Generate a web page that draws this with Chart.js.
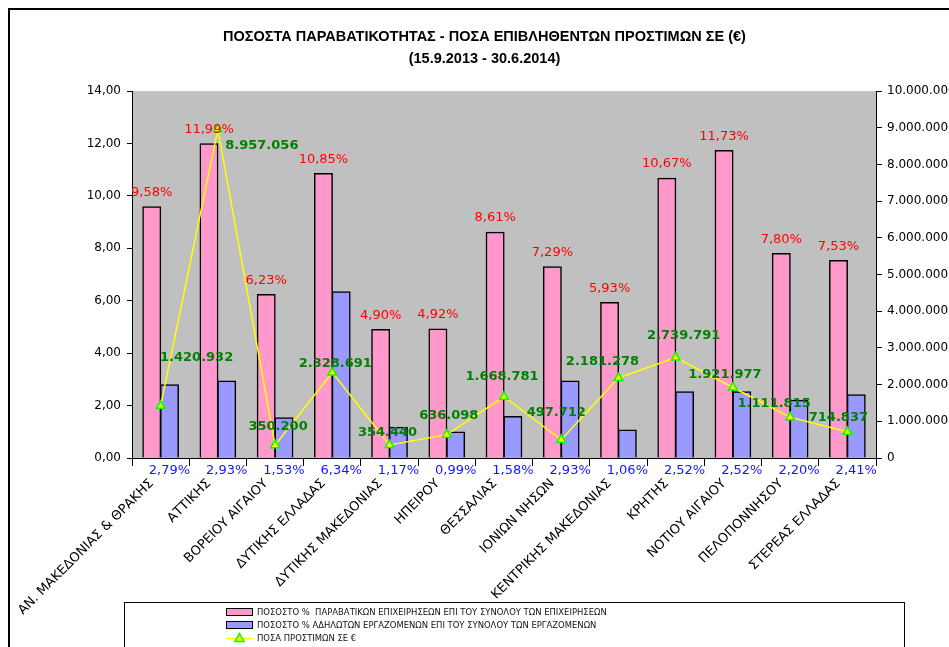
<!DOCTYPE html>
<html>
<head>
<meta charset="utf-8">
<script src="https://cdn.jsdelivr.net/npm/chart.js@4.4.1/dist/chart.umd.min.js"></script>
<style>
  html, body { margin: 0; padding: 0; background: #fff; }
  #wrap { width: 949px; height: 647px; }
</style>
</head>
<body>
<div id="wrap"><canvas id="chart" width="949" height="647"></canvas></div>
<script>
// --- data ---
const regions = [
    'ΑΝ. ΜΑΚΕΔΟΝΙΑΣ & ΘΡΑΚΗΣ', 'ΑΤΤΙΚΗΣ', 'ΒΟΡΕΙΟΥ ΑΙΓΑΙΟΥ', 'ΔΥΤΙΚΗΣ ΕΛΛΑΔΑΣ',
    'ΔΥΤΙΚΗΣ ΜΑΚΕΔΟΝΙΑΣ', 'ΗΠΕΙΡΟΥ', 'ΘΕΣΣΑΛΙΑΣ', 'ΙΟΝΙΩΝ ΝΗΣΩΝ',
    'ΚΕΝΤΡΙΚΗΣ ΜΑΚΕΔΟΝΙΑΣ', 'ΚΡΗΤΗΣ', 'ΝΟΤΙΟΥ ΑΙΓΑΙΟΥ', 'ΠΕΛΟΠΟΝΝΗΣΟΥ', 'ΣΤΕΡΕΑΣ ΕΛΛΑΔΑΣ'
];
const pctViolating = [9.58, 11.99, 6.23, 10.85, 4.90, 4.92, 8.61, 7.29, 5.93, 10.67, 11.73, 7.80, 7.53];
const pctUndeclared = [2.79, 2.93, 1.53, 6.34, 1.17, 0.99, 1.58, 2.93, 1.06, 2.52, 2.52, 2.20, 2.41];
const fines = [1420932, 8957056, 350200, 2328691, 354440, 636098, 1668781, 497712, 2181278, 2739791, 1921977, 1111815, 714837];

const titleLines = [
    'ΠΟΣΟΣΤΑ ΠΑΡΑΒΑΤΙΚΟΤΗΤΑΣ - ΠΟΣΑ ΕΠΙΒΛΗΘΕΝΤΩΝ ΠΡΟΣΤΙΜΩΝ ΣΕ (€)',
    '(15.9.2013 - 30.6.2014)'
];
const seriesNames = [
    'ΠΟΣΟΣΤΟ %  ΠΑΡΑΒΑΤΙΚΩΝ ΕΠΙΧΕΙΡΗΣΕΩΝ ΕΠΙ ΤΟΥ ΣΥΝΟΛΟΥ ΤΩΝ ΕΠΙΧΕΙΡΗΣΕΩΝ',
    'ΠΟΣΟΣΤΟ % ΑΔΗΛΩΤΩΝ ΕΡΓΑΖΟΜΕΝΩΝ ΕΠΙ ΤΟΥ ΣΥΝΟΛΟΥ ΤΩΝ ΕΡΓΑΖΟΜΕΝΩΝ',
    'ΠΟΣΑ ΠΡΟΣΤΙΜΩΝ ΣΕ €'
];

// label nudges (px) for the green fine labels, like the hand-moved ones in the original
const fineLabelNudge = [[36, -48], [44, 16], [3, -19], [3, -9], [-2, -12], [2, -19], [-2, -20],
    [-5, -27], [-16, -16], [8, -22], [-8, -13], [-16, -14], [-9, -14]];

const PINK = '#FF99CC';
const BLUE = '#9999FF';
const YELLOW = '#FFFF00';
const GREEN_MARK = '#00FF00';
const FONT = '"DejaVu Sans", Verdana, sans-serif';
const NARROW = '"Liberation Sans Narrow", "DejaVu Sans Condensed", sans-serif';

const pct = v => v.toFixed(2).replace('.', ',') + '%';
const dots = v => String(Math.round(v)).replace(/\B(?=(\d{3})+(?!\d))/g, '.');

// Frame, grey plot area
const backdrop = {
    id: 'backdrop',
    beforeDraw(chart) {
        const { ctx, chartArea: a } = chart;
        ctx.save();
        ctx.fillStyle = '#fff';
        ctx.fillRect(0, 0, chart.width, chart.height);
        ctx.fillStyle = '#C0C0C0';
        ctx.fillRect(a.left, a.top, a.right - a.left, a.bottom - a.top);
        ctx.strokeStyle = '#000';
        ctx.lineWidth = 2;
        ctx.strokeRect(9, 9, chart.width + 20, chart.height + 20);
        ctx.restore();
    }
};

// Value labels (red above pink, blue under the axis, green next to the points)
const valueLabels = {
    id: 'valueLabels',
    afterDatasetsDraw(chart) {
        const { ctx, chartArea: a } = chart;
        ctx.save();
        ctx.textAlign = 'center';

        ctx.font = '13px ' + FONT;
        ctx.fillStyle = '#FF0000';
        ctx.textBaseline = 'alphabetic';
        chart.getDatasetMeta(0).data.forEach((bar, i) => {
            ctx.fillText(pct(pctViolating[i]), bar.x, bar.y - 11);
        });

        ctx.fillStyle = '#1414FF';
        ctx.textBaseline = 'middle';
        chart.getDatasetMeta(1).data.forEach((bar, i) => {
            ctx.fillText(pct(pctUndeclared[i]), bar.x, a.bottom + 13);
        });

        ctx.font = 'bold 13px ' + FONT;
        ctx.fillStyle = '#008000';
        chart.getDatasetMeta(2).data.forEach((pt, i) => {
            const [dx, dy] = fineLabelNudge[i];
            ctx.fillText(dots(fines[i]), pt.x + dx, pt.y + dy);
        });
        ctx.restore();
    }
};

// Boxed legend at the bottom, like the Excel one
const boxLegend = {
    id: 'boxLegend',
    afterDraw(chart) {
        const { ctx } = chart;
        const ds = chart.data.datasets;
        ctx.save();
        ctx.strokeStyle = '#000';
        ctx.lineWidth = 1;
        ctx.strokeRect(124.5, 602.5, 780, 80);

        const x0 = 226, sw = 27, rows = [612, 625, 638];
        ctx.font = '9.4px ' + NARROW;
        ctx.textBaseline = 'middle';
        ctx.textAlign = 'left';
        ds.forEach((d, i) => {
            const y = rows[i];
            if (d.type === 'line') {
                ctx.strokeStyle = d.borderColor;
                ctx.lineWidth = 1.5;
                ctx.beginPath();
                ctx.moveTo(x0, y + 0.5);
                ctx.lineTo(x0 + sw, y + 0.5);
                ctx.stroke();
                const cx = x0 + sw / 2;
                ctx.beginPath();
                ctx.moveTo(cx, y - 4.5);
                ctx.lineTo(cx + 4.5, y + 3.5);
                ctx.lineTo(cx - 4.5, y + 3.5);
                ctx.closePath();
                ctx.fillStyle = d.pointBackgroundColor;
                ctx.fill();
                ctx.strokeStyle = d.pointBorderColor;
                ctx.stroke();
            } else {
                ctx.fillStyle = d.backgroundColor;
                ctx.fillRect(x0, y - 4, sw, 8);
                ctx.strokeStyle = '#000';
                ctx.lineWidth = 1;
                ctx.strokeRect(x0 + 0.5, y - 3.5, sw - 1, 7);
            }
            ctx.fillStyle = '#111';
            ctx.fillText(d.label, x0 + sw + 4, y + 0.5);
        });
        ctx.restore();
    }
};

new Chart(document.getElementById('chart'), {
    type: 'bar',
    data: {
        labels: regions,
        datasets: [
            {
                label: seriesNames[0],
                data: pctViolating,
                backgroundColor: PINK,
                borderColor: '#000',
                borderWidth: 1.5,
                inflateAmount: 0.6,
                yAxisID: 'y',
                order: 2
            },
            {
                label: seriesNames[1],
                data: pctUndeclared,
                backgroundColor: BLUE,
                borderColor: '#000',
                borderWidth: 1.5,
                inflateAmount: 0.6,
                yAxisID: 'y',
                order: 2
            },
            {
                type: 'line',
                label: seriesNames[2],
                data: fines,
                borderColor: YELLOW,
                borderWidth: 1.5,
                tension: 0,
                pointStyle: 'triangle',
                pointRadius: 5,
                pointBackgroundColor: YELLOW,
                pointBorderColor: GREEN_MARK,
                pointBorderWidth: 1.5,
                yAxisID: 'y1',
                order: 1
            }
        ]
    },
    options: {
        responsive: false,
        devicePixelRatio: 1,
        animation: false,
        layout: { padding: { left: 20, right: 0, top: 0, bottom: 0 } },
        datasets: { bar: { categoryPercentage: 0.62, barPercentage: 1.0 } },
        plugins: {
            legend: { display: false },
            tooltip: { enabled: false },
            title: {
                display: true,
                text: titleLines,
                color: '#000',
                font: { family: '"Liberation Sans", Arial, sans-serif', size: 14.5, weight: 'bold', lineHeight: 1.52 },
                padding: { top: 26, bottom: 21 }
            }
        },
        scales: {
            x: {
                grid: { drawOnChartArea: false, drawTicks: true, tickLength: 8, color: '#000', offset: true },
                border: { display: true, color: '#000', width: 1 },
                ticks: {
                    autoSkip: false,
                    minRotation: 45,
                    maxRotation: 45,
                    color: '#000',
                    font: { family: FONT, size: 13 },
                    padding: 10,
                    labelOffset: -9
                },
                afterFit(s) { s.height = 189; }
            },
            y: {
                position: 'left',
                min: 0,
                max: 14,
                ticks: {
                    stepSize: 2,
                    color: '#000',
                    font: { family: FONT, size: 12 },
                    padding: 6,
                    callback: v => v.toFixed(2).replace('.', ',')
                },
                grid: { drawOnChartArea: false, drawTicks: true, tickLength: 5, color: '#000' },
                border: { display: true, color: '#000', width: 1 },
                afterFit(s) { s.width = 112; }
            },
            y1: {
                position: 'right',
                min: 0,
                max: 10000000,
                ticks: {
                    stepSize: 1000000,
                    color: '#000',
                    font: { family: FONT, size: 12 },
                    padding: 5,
                    callback: v => dots(v)
                },
                grid: { drawOnChartArea: false, drawTicks: true, tickLength: 6, color: '#000' },
                border: { display: true, color: '#000', width: 1 },
                afterFit(s) { s.width = 73; }
            }
        }
    },
    plugins: [backdrop, valueLabels, boxLegend]
});
</script>
</body>
</html>
